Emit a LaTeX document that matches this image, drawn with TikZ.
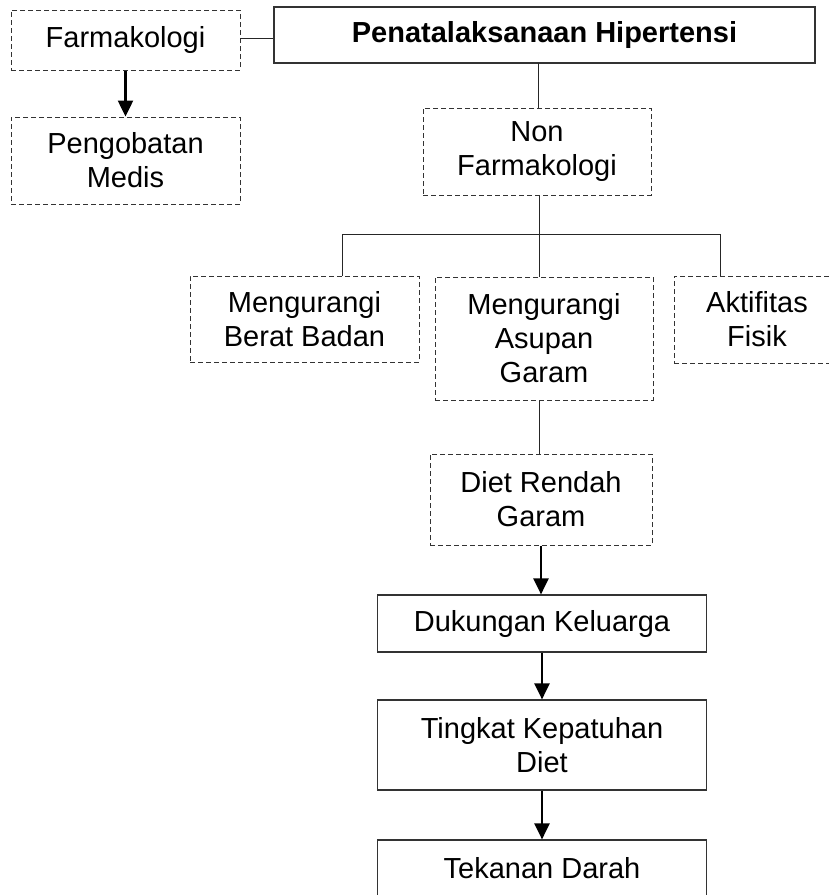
\documentclass[tikz,border=0pt]{standalone}
\usepackage{fontspec}
\setmainfont{Liberation Sans}
\usetikzlibrary{arrows.meta}
\begin{document}
\begin{tikzpicture}[x=1pt,y=-1pt,
  every node/.style={font=\fontsize{29}{34}\selectfont, align=center, inner sep=0pt},
  dbox/.style={draw=black!80, line width=1pt, dash pattern=on 5pt off 3pt},
  sbox/.style={draw=black!80, line width=1.2pt},
  link/.style={draw=black!85, line width=1pt},
  flow/.style={draw=black, line width=2.5pt, -{Triangle[length=16pt,width=15pt]}}
]
\useasboundingbox (0,0) rectangle (829,895);
\clip (0,0) rectangle (829,895);

\node[dbox, minimum width=229pt, minimum height=60pt] (farm) at (125.5,40) {Farmakologi};
\node[dbox, minimum width=229pt, minimum height=87pt] (medis) at (125.5,160.5) {Pengobatan\\Medis};
\node[sbox, minimum width=541pt, minimum height=56pt, font=\fontsize{29}{34}\selectfont\bfseries] (pena) at (544.5,35) {Penatalaksanaan Hipertensi};
\node[dbox, minimum width=228pt, minimum height=87pt] (nonf) at (537,151.5) {Non\\Farmakologi};
\node[dbox, minimum width=229pt, minimum height=86pt] (berat) at (304.5,319) {Mengurangi\\Berat Badan};
\node[dbox, minimum width=218pt, minimum height=123pt] (asupan) at (544,338.5) {Mengurangi\\Asupan\\Garam};
\node[dbox, minimum width=166pt, minimum height=87pt] (aktif) at (757,319.5) {Aktifitas\\Fisik};
\node[dbox, minimum width=222pt, minimum height=91pt] (diet) at (541,499.5) {Diet Rendah\\Garam};
\node[sbox, minimum width=329pt, minimum height=57pt] (duk) at (542,623.5) {Dukungan Keluarga};
\node[sbox, minimum width=329pt, minimum height=90pt] (ting) at (542,745) {Tingkat Kepatuhan\\Diet};
\node[sbox, minimum width=329pt, minimum height=57pt] (tek) at (542,868.5) {Tekanan Darah};

\coordinate (bus) at (539,234);
\coordinate (busL) at (342,234);
\coordinate (busR) at (720,234);
\coordinate (penaB) at (538,63);
\coordinate (farmR) at (240,38);

\draw[link] (farmR) -- (farmR -| pena.west);
\draw[flow] (farm.south) -- (medis.north);
\draw[link] (penaB) -- (penaB |- nonf.north);
\draw[link] (bus |- nonf.south) -- (bus);
\draw[link] (busL) -- (busR);
\draw[link] (busL) -- (busL |- berat.north);
\draw[link] (bus) -- (bus |- asupan.north);
\draw[link] (busR) -- (busR |- aktif.north);
\draw[link] (bus |- asupan.south) -- (bus |- diet.north);
\draw[flow] (diet.south) -- (diet.south |- duk.north);
\draw[flow] (duk.south) -- (ting.north);
\draw[flow] (ting.south) -- (tek.north);
\end{tikzpicture}
\end{document}
